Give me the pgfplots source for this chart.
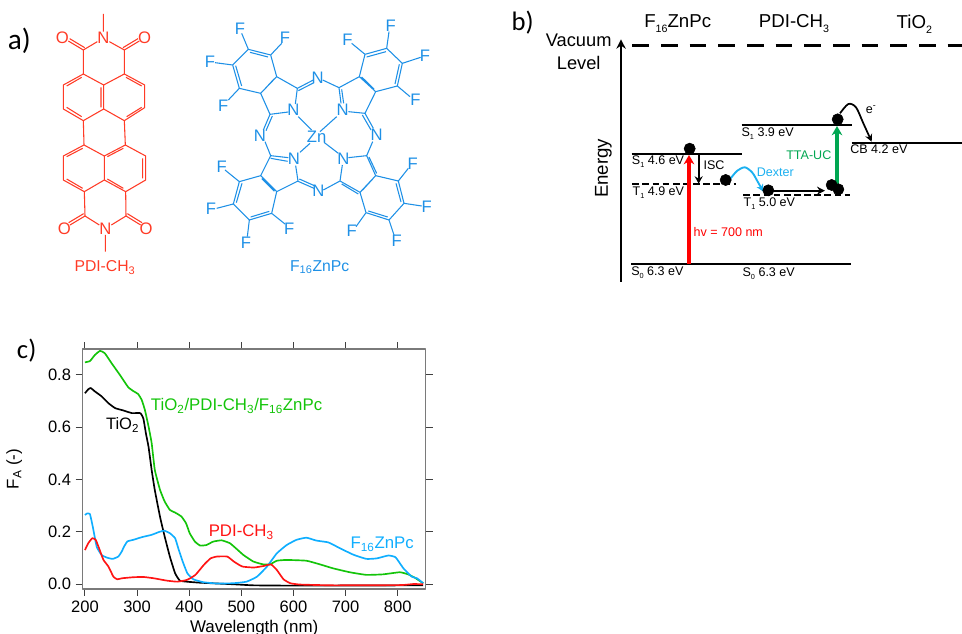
\documentclass[border=0pt]{standalone}
\usepackage{pgfplots}
\pgfplotsset{compat=1.18}
\usepackage{fontspec}
\setmainfont{Liberation Sans}
\newfontfamily\calib{Carlito}
\usetikzlibrary{arrows.meta}
\newcommand{\fs}[1]{\fontsize{#1}{#1}\selectfont}
\newcommand{\sub}[1]{\textsubscript{#1}}
\newcommand{\subl}[1]{\raisebox{-0.45ex}{\fs{5.5pt}#1}}
\newcommand{\subh}[1]{\raisebox{-0.5ex}{\fs{8pt}#1}}
\definecolor{molred}{HTML}{FF3B26}
\definecolor{molblue}{HTML}{1E90E6}
\definecolor{cgreen}{HTML}{14C40A}
\definecolor{cblue}{HTML}{0FAEFF}
\definecolor{cred}{HTML}{FF1414}
\definecolor{ttagreen}{HTML}{00A651}
\definecolor{dexblue}{HTML}{1CB0F0}
\definecolor{framegray}{HTML}{7A7A7A}
\pgfplotsset{px/.style={scale only axis,hide axis,clip=false,y dir=reverse,anchor=south west,
  xmin=0,ymin=0,enlargelimits=false,unbounded coords=jump}}
\begin{document}
\begin{tikzpicture}
\path[use as bounding box] (0pt,0pt) rectangle (721.5pt,475.5pt);
\clip (0pt,0pt) rectangle (721.5pt,475.5pt);

% ---- panel a, PDI-CH3 (coordinates: 3 units per picture pixel)
\begin{axis}[px,at={(0pt,258pt)},width=150pt,height=217.5pt,xmax=600,ymax=870]
\addplot[molred,line width=0.8pt] coordinates {
(310,42)(310,95)(nan,nan)
(292,125)(250,150)(250,222)(190,255)(190,327)(250,362)(311,327)(373,362)(434,323)(434,255)(373,222)(311,255)(250,222)(nan,nan)
(373,222)(373,150)(328,125)(nan,nan)
(250,150)(205,123)(nan,nan)(254,143)(209,116)(nan,nan)
(373,150)(418,123)(nan,nan)(369,143)(414,116)(nan,nan)
(311,255)(311,327)(nan,nan)(303,262)(303,322)(nan,nan)
(245,232)(200,258)(nan,nan)(200,322)(245,350)(nan,nan)
(378,232)(425,258)(nan,nan)(425,322)(380,350)(nan,nan)
(250,362)(252,435)(nan,nan)(373,362)(376,435)(nan,nan)
(252,435)(190,468)(190,540)(253,575)(313,540)(377,575)(437,540)(437,468)(376,435)(313,468)(252,435)(nan,nan)
(313,468)(313,540)(nan,nan)
(248,445)(200,470)(nan,nan)(200,537)(248,565)(nan,nan)
(322,470)(370,445)(nan,nan)(428,475)(428,535)(nan,nan)(322,537)(370,565)(nan,nan)
(253,575)(255,648)(298,675)(nan,nan)
(377,575)(378,648)(334,675)(nan,nan)
(255,648)(210,675)(nan,nan)(251,641)(206,668)(nan,nan)
(378,648)(422,675)(nan,nan)(382,641)(426,668)(nan,nan)
(316,705)(316,755)
};
\begin{scope}[every node/.style={text=molred,font=\fs{12.5pt},inner sep=0pt}]
\node at (axis cs:310,113) {N};
\node at (axis cs:187,113) {O};
\node at (axis cs:434,113) {O};
\node at (axis cs:316,685) {N};
\node at (axis cs:193,685) {O};
\node at (axis cs:438,685) {O};
\node[font=\fs{11.8pt}] at (axis cs:315,803) {PDI-CH\sub{3}};
\end{scope}
\node[font=\calib\fs{22pt},inner sep=0pt] at (axis cs:58,122) {a)};
\node[font=\calib\fs{20pt},inner sep=0pt] at (axis cs:80,1052) {c)};
\end{axis}

% ---- panel a, F16ZnPc
\begin{axis}[px,at={(142.5pt,258pt)},width=195pt,height=202.5pt,xmax=780,ymax=810]
\addplot[molblue,line width=0.8pt] coordinates {
(175,88)(242,105)(260,170)(212,220)(148,205)(128,135)(175,88)(nan,nan)
(180,97)(234,111)(nan,nan)(137,137)(155,198)(nan,nan)(218,214)(253,176)(nan,nan)
(175,88)(155,40)(nan,nan)(242,105)(275,70)(nan,nan)(128,135)(75,128)(nan,nan)(148,205)(115,240)(nan,nan)
(260,170)(322,205)(316,252)(nan,nan)(295,276)(240,283)(212,220)(nan,nan)
(322,205)(370,180)(nan,nan)(325,212)(372,188)(nan,nan)(398,180)(447,203)(nan,nan)
(240,283)(220,330)(nan,nan)(247,288)(228,332)(nan,nan)(225,365)(242,407)(nan,nan)
(325,290)(365,330)(nan,nan)
(590,85)(637,130)(622,198)(557,215)(508,170)(525,103)(590,85)(nan,nan)
(530,111)(588,95)(nan,nan)(628,133)(615,192)(nan,nan)(552,207)(515,171)(nan,nan)
(590,85)(597,35)(nan,nan)(525,103)(485,70)(nan,nan)(637,130)(692,112)(nan,nan)(622,198)(660,230)(nan,nan)
(508,170)(447,203)(453,250)(nan,nan)(455,208)(461,250)(nan,nan)(475,275)(525,280)(557,215)(nan,nan)
(525,280)(550,325)(nan,nan)(517,285)(543,330)(nan,nan)(548,365)(530,407)(nan,nan)
(440,290)(390,335)(nan,nan)
(212,467)(260,515)(245,580)(178,600)(130,552)(148,485)(212,467)(nan,nan)
(156,490)(139,548)(nan,nan)(182,591)(238,574)(nan,nan)(215,476)(253,514)(nan,nan)
(148,485)(105,450)(nan,nan)(130,552)(80,565)(nan,nan)(178,600)(172,650)(nan,nan)(245,580)(285,612)(nan,nan)
(212,467)(242,407)(295,413)(nan,nan)(242,415)(293,424)(nan,nan)(317,437)(324,483)(260,515)(nan,nan)
(322,483)(372,505)(nan,nan)(328,477)(373,497)(nan,nan)(400,510)(450,483)(nan,nan)
(330,397)(360,370)(nan,nan)
(557,467)(625,483)(642,550)(597,600)(528,578)(510,517)(557,467)(nan,nan)
(618,490)(633,546)(nan,nan)(593,591)(535,573)(nan,nan)(550,475)(517,511)(nan,nan)
(625,483)(655,445)(nan,nan)(642,550)(695,558)(nan,nan)(597,600)(612,645)(nan,nan)(528,578)(498,620)(nan,nan)
(557,467)(530,407)(475,413)(nan,nan)(537,411)(560,460)(nan,nan)(457,435)(450,483)(510,517)(nan,nan)
(455,492)(505,522)(nan,nan)
(402,367)(445,400)
};
\begin{scope}[every node/.style={text=molblue,font=\fs{12.5pt},inner sep=0pt}]
\node at (axis cs:150,25) {F};
\node at (axis cs:285,52) {F};
\node at (axis cs:60,125) {F};
\node at (axis cs:100,257) {F};
\node at (axis cs:602,17) {F};
\node at (axis cs:472,58) {F};
\node at (axis cs:705,107) {F};
\node at (axis cs:676,240) {F};
\node at (axis cs:95,440) {F};
\node at (axis cs:63,567) {F};
\node at (axis cs:168,667) {F};
\node at (axis cs:298,625) {F};
\node at (axis cs:668,430) {F};
\node at (axis cs:710,560) {F};
\node at (axis cs:620,662) {F};
\node at (axis cs:485,633) {F};
\node at (axis cs:383,172) {N};
\node at (axis cs:310,270) {N};
\node at (axis cs:458,270) {N};
\node at (axis cs:210,347) {N};
\node at (axis cs:560,345) {N};
\node at (axis cs:312,417) {N};
\node at (axis cs:460,415) {N};
\node at (axis cs:385,512) {N};
\node at (axis cs:380,350) {Zn};
\node[font=\fs{11.8pt}] at (axis cs:389,742) {F\sub{16}ZnPc};
\end{scope}
\end{axis}

% ---- panel b, energy diagram
\begin{axis}[px,at={(375pt,250.5pt)},width=346.5pt,height=225pt,xmax=1386,ymax=900]
\addplot[black,line width=2.7pt,dash pattern=on 12.5pt off 9pt] coordinates {(397,136)(1386,136)};
\addplot[black,line width=2pt,-{Stealth[length=7pt,width=7pt]}] coordinates {(363,845)(363,118)};
\addplot[black,line width=1.3pt] coordinates {(395,463)(725,463)};
\addplot[black,line width=1.3pt] coordinates {(393,791)(725,791)};
\addplot[black,line width=1.3pt] coordinates {(725,791)(1053,791)};
\addplot[black,line width=1.3pt] coordinates {(725,374)(1055,374)};
\addplot[black,line width=1.3pt] coordinates {(1055,428)(1386,428)};
\addplot[black,line width=1.3pt,dash pattern=on 5pt off 2.6pt] coordinates {(397,553)(708,553)};
\addplot[black,line width=1.3pt,dash pattern=on 5pt off 2.6pt] coordinates {(730,584)(1050,584)};
\addplot[only marks,mark=*,mark size=4.2pt,black] coordinates {(569,446)(677,540)(805,571)(995,555)(1015,568)(1013,358)};
\addplot[red,line width=2.3pt,-{Stealth[length=7pt,width=8pt]}] coordinates {(567,791)(567,465)};
\addplot[ttagreen,line width=2.3pt,-{Stealth[length=7pt,width=8pt]}] coordinates {(1011,555)(1011,378)};
\addplot[black,line width=1.6pt,-{Stealth[length=5.5pt,width=6pt]}] coordinates {(596,465)(596,551)};
\addplot[black,line width=1.3pt,-{Stealth[length=6pt,width=6pt]}] coordinates {(820,572)(975,572)};
\addplot[dexblue,line width=1.4pt,smooth,-{Stealth[length=5.5pt,width=5.5pt]}] coordinates {(692,535)(712,512)(735,502)(757,518)(773,545)(790,575)};
\addplot[black,line width=1.3pt,smooth,-{Stealth[length=5.5pt,width=5.5pt]}] coordinates {(1020,340)(1045,312)(1068,322)(1090,370)(1115,425)};
\node[font=\calib\fs{20pt},inner sep=0pt] at (axis cs:68,68) {b)};
\node[font=\fs{14pt},inner sep=0pt] at (axis cs:533,70) {F\subh{16}ZnPc};
\node[font=\fs{14pt},inner sep=0pt] at (axis cs:882,72) {PDI-CH\subh{3}};
\node[font=\fs{14pt},inner sep=0pt] at (axis cs:1243,74) {TiO\subh{2}};
\node[font=\fs{13.7pt},inner sep=0pt] at (axis cs:236,120) {Vacuum};
\node[font=\fs{13.7pt},inner sep=0pt] at (axis cs:236,188) {Level};
\node[font=\fs{14pt},inner sep=0pt,rotate=90] at (axis cs:310,505) {Energy};
\begin{scope}[every node/.style={font=\fs{9.4pt},inner sep=0pt,anchor=west}]
\node at (axis cs:395,484) {S\subl{1} 4.6 eV};
\node at (axis cs:397,578) {T\subl{1} 4.9 eV};
\node at (axis cs:393,818) {S\subl{0} 6.3 eV};
\node at (axis cs:727,820) {S\subl{0} 6.3 eV};
\node at (axis cs:724,400) {S\subl{1} 3.9 eV};
\node at (axis cs:730,612) {T\subl{1} 5.0 eV};
\node at (axis cs:1050,449) {CB 4.2 eV};
\node at (axis cs:610,495) {ISC};
\node[text=dexblue] at (axis cs:770,517) {Dexter};
\node[text=ttagreen] at (axis cs:858,466) {TTA-UC};
\node at (axis cs:1097,330) {e\textsuperscript{-}};
\node[text=red] at (axis cs:580,695) {hv = 700 nm};
\end{scope}
\end{axis}

% ---- panel c, spectra
\begin{axis}[at={(62pt,33.75pt)},anchor=south west,scale only axis,width=257.25pt,height=180pt,
  xmin=195.6,xmax=853.7,ymin=-0.018,ymax=0.899,
  xtick={200,300,...,800},ytick={0,0.2,0.4,0.6,0.8},
  xtick pos=both,ytick pos=both,tick align=outside,major tick length=5.2pt,
  axis line style={framegray,line width=0.95pt},
  every tick/.style={black!75,line width=0.7pt},
  xticklabel style={font=\fs{12.4pt},yshift=-0.5pt},
  yticklabel style={font=\fs{12.4pt},/pgf/number format/fixed,/pgf/number format/zerofill,/pgf/number format/precision=1},
  /pgf/number format/assume math mode=true,
  xticklabel pos=bottom,yticklabel pos=left,
  scaled ticks=false,
  xlabel={Wavelength (nm)},
  ylabel={F\sub{A} (-)},
  xlabel style={font=\fs{12.7pt},yshift=1.5pt},
  ylabel style={font=\fs{12.7pt},yshift=12.5pt},
  clip=true,
  line join=round]
\addplot[black,line width=1.25pt,smooth,tension=0.25] coordinates {
(200,.730)(206.4,.745)(211,.750)(219,.737)(232,.718)(245,.692)(258,.673)(274,.664)(290,.654)(306,.654)(312,.634)(317,.576)(322,.525)(328,.436)(334,.360)(344,.258)(353,.182)(363,.105)(373,.042)(382,.014)(395,.010)(421,.006)(453,.003)(485,0)(523,-.004)(580,-.005)(676,-.005)(849,-.004)};
\addplot[cgreen,line width=1.25pt,smooth,tension=0.25] coordinates {
(200,.848)(209.6,.853)(219,.876)(229,.892)(238,.883)(251,.845)(267,.800)(283,.753)(293,.738)(302,.727)(309,.704)(315,.666)(322,.603)(328,.539)(334,.437)(344,.361)(353,.316)(363,.284)(373,.274)(385,.259)(394,.233)(401,.195)(411,.163)(421,.148)(433,.150)(446,.163)(462,.168)(478,.157)(491,.135)(504,.112)(523,.087)(542,.076)(555,.076)(568,.090)(587,.093)(625,.090)(651,.076)(676,.061)(708,.046)(740,.036)(772,.038)(804,.046)(820,.038)(833,.025)(849,.004)};
\addplot[cblue,line width=1.25pt,smooth,tension=0.25] coordinates {
(200,.265)(204.5,.271)(209.6,.268)(215,.220)(222.6,.143)(232,.112)(242,.102)(253,.097)(264,.106)(270.5,.125)(275,.144)(281.5,.164)(293,.170)(309,.180)(328,.189)(341,.199)(352,.205)(363,.195)(373,.176)(379,.138)(387.5,.087)(396.5,.042)(408,.019)(427,.008)(453,.003)(485,.004)(510,.010)(530,.029)(549,.067)(568,.118)(587,.150)(606,.170)(625,.178)(644,.167)(667,.160)(689,.138)(715,.113)(740,.097)(760,.099)(782,.110)(796,.103)(811,.061)(827,.029)(837,.023)(849,.004)};
\addplot[cred,line width=1.25pt,smooth,tension=0.25] coordinates {
(200,.131)(206.4,.157)(214,.176)(220.6,.170)(227,.138)(235.5,.093)(245,.068)(254.6,.029)(262,.019)(271,.023)(293,.027)(312,.028)(332,.023)(357,.014)(377,.010)(396,.017)(412,.036)(428,.074)(441,.099)(453,.106)(473,.106)(485.6,.087)(501.6,.068)(524,.064)(543,.070)(557,.076)(568,.055)(581,.019)(594,.004)(613,-.001)(677,-.004)(805,-.003)(830,.001)(849,0)};
\node[text=cgreen,font=\fs{12.6pt},inner sep=0pt,anchor=west] at (axis cs:326,.680) {TiO\sub{2}/PDI-CH\sub{3}/F\sub{16}ZnPc};
\node[font=\fs{12.4pt},inner sep=0pt,anchor=west] at (axis cs:240,.608) {TiO\sub{2}};
\node[text=cred,font=\fs{12.6pt},inner sep=0pt,anchor=west] at (axis cs:437,.200) {PDI-CH\sub{3}};
\node[text=cblue,font=\fs{12.6pt},inner sep=0pt,anchor=west] at (axis cs:709,.153) {F\sub{16}ZnPc};
\end{axis}
\end{tikzpicture}
\end{document}
